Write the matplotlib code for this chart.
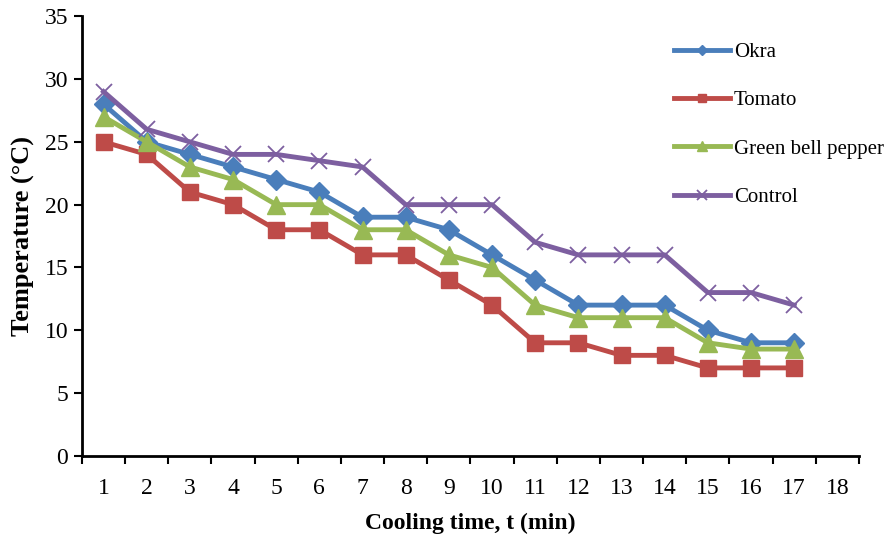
import numpy as np
import matplotlib
matplotlib.use("Agg")
import matplotlib.pyplot as plt

# data
minutes = list(range(1, 18))
okra = [28, 25, 24, 23, 22, 21, 19, 19, 18, 16, 14, 12, 12, 12, 10, 9, 9]
tomato = [25, 24, 21, 20, 18, 18, 16, 16, 14, 12, 9, 9, 8, 8, 7, 7, 7]
pepper = [27, 25, 23, 22, 20, 20, 18, 18, 16, 15, 12, 11, 11, 11, 9, 8.5, 8.5]
control = [29, 26, 25, 24, 24, 23.5, 23, 20, 20, 20, 17, 16, 16, 16, 13, 13, 12]
xlabels = [str(i) for i in range(1, 19)]

plt.rcParams['font.family'] = ['Liberation Serif', 'DejaVu Serif']

fig = plt.figure(figsize=(8.91, 5.42), dpi=100)
ax = fig.add_axes([0.092, 0.159, 0.872, 0.811])

ax.plot(minutes, okra, color='#4A7EBB', lw=3.5, marker='D', ms=10, label='Okra')
ax.plot(minutes, tomato, color='#BE4B48', lw=3.5, marker='s', ms=11.5, label='Tomato')
ax.plot(minutes, pepper, color='#98B954', lw=3.5, marker='^', ms=13, label='Green bell pepper')
ax.plot(minutes, control, color='#7D5FA0', lw=3.5, marker='x', ms=12, mew=1.3, label='Control')

ax.set_xlim(0.5, 18.5)
ax.set_ylim(0, 35)
ax.set_yticks(np.arange(0, 36, 5))
ax.set_xticks(np.arange(0.5, 19, 1))
ax.set_xticklabels([])
ax.set_xticks(np.arange(1, 19), minor=True)
ax.set_xticklabels(xlabels, minor=True)
ax.tick_params(axis='x', which='minor', length=0, pad=16, labelsize=17)
ax.tick_params(axis='x', which='major', length=6, width=1.5, direction='out')
ax.tick_params(axis='y', length=6, width=1.5, direction='out', labelsize=17, pad=4)

for s in ['top', 'right']:
    ax.spines[s].set_visible(False)
for s in ['left', 'bottom']:
    ax.spines[s].set_linewidth(2)

ax.set_xlabel('Cooling time, t (min)', fontsize=17, fontweight='bold', labelpad=10)
ax.set_ylabel('Temperature (°C)', fontsize=19, fontweight='bold', labelpad=7)

ax.legend(loc='upper left', bbox_to_anchor=(0.757, 0.922), bbox_transform=fig.transFigure,
          borderaxespad=0, borderpad=0, frameon=False, fontsize=15,
          labelspacing=1.38, handlelength=2.65, handletextpad=0.2, markerscale=0.55)

fig.savefig('out.png', dpi=100)
